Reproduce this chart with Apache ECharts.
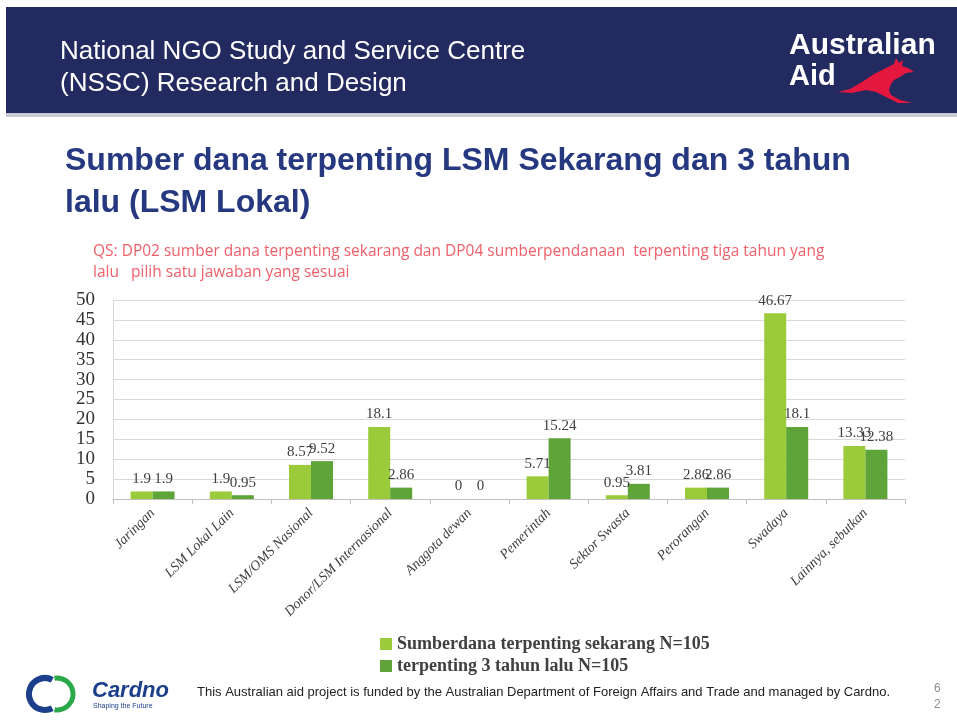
<!DOCTYPE html>
<html>
<head>
<meta charset="utf-8">
<script src="https://cdn.jsdelivr.net/npm/echarts@6/dist/echarts.min.js"></script>
<style>
html, body { margin: 0; padding: 0; background: #fff; }
#chart { width: 957px; height: 722px; }
</style>
</head>
<body>
<div id="chart"></div>
<script>
// categories
var categories = ['Jaringan', 'LSM Lokal Lain', 'LSM/OMS Nasional', 'Donor/LSM Internasional', 'Anggota dewan',
    'Pemerintah', 'Sektor Swasta', 'Perorangan', 'Swadaya', 'Lainnya, sebutkan']
// Sumberdana terpenting sekarang
var nowValues = [1.9, 1.9, 8.57, 18.1, 0, 5.71, 0.95, 2.86, 46.67, 13.33]
// terpenting 3 tahun lalu
var pastValues = [1.9, 0.95, 9.52, 2.86, 0, 15.24, 3.81, 2.86, 18.1, 12.38]
var seriesNames = ['Sumberdana terpenting sekarang N=105', 'terpenting 3 tahun lalu N=105']

var serif = '"Liberation Serif", "DejaVu Serif", serif'
var sans = '"Liberation Sans", Arial, sans-serif'

var dom = document.getElementById('chart')
var chart = echarts.init(dom)

function barLabel() {
    return {
        show: true,
        position: 'top',
        distance: 5,
        fontFamily: serif,
        fontSize: 15,
        color: '#404040'
    }
}

// rough kangaroo outline for the logo
var kangaroo = [[838, 92], [850, 89], [862, 82], [874, 74], [886, 68], [894, 64], [896, 58], [899, 63], [903, 60],
    [902, 66], [908, 68], [914, 72], [906, 73], [900, 77], [894, 80], [891, 84], [889, 90], [891, 95],
    [900, 100], [912, 103], [898, 103], [884, 96], [876, 92], [866, 90], [852, 93]]

var option = {
    animation: false,
    color: ['#9bcb3b', '#5fa438'],
    grid: {
        left: 113,
        right: 52,
        top: 300,
        bottom: 223
    },
    legend: {
        orient: 'vertical',
        left: 375,
        top: 630,
        itemWidth: 12,
        itemHeight: 12,
        itemGap: 4,
        icon: 'rect',
        textStyle: {
            fontFamily: serif,
            fontSize: 18,
            fontWeight: 'bold',
            color: '#404040'
        },
        data: seriesNames
    },
    xAxis: {
        type: 'category',
        data: categories,
        axisLine: { lineStyle: { color: '#bfbfbf' } },
        axisTick: { show: true, length: 5, lineStyle: { color: '#bfbfbf' } },
        axisLabel: {
            interval: 0,
            rotate: 45,
            margin: 12,
            fontFamily: serif,
            fontStyle: 'italic',
            fontSize: 14,
            color: '#404040'
        }
    },
    yAxis: {
        type: 'value',
        min: 0,
        max: 50,
        interval: 5,
        axisLine: { show: true, lineStyle: { color: '#d9d9d9' } },
        axisTick: { show: false },
        splitLine: { lineStyle: { color: '#d9d9d9' } },
        axisLabel: {
            margin: 18,
            fontFamily: serif,
            fontSize: 19,
            color: '#333333'
        }
    },
    series: [
        {
            name: seriesNames[0],
            type: 'bar',
            data: nowValues,
            barWidth: 22,
            barGap: '0%',
            label: barLabel()
        },
        {
            name: seriesNames[1],
            type: 'bar',
            data: pastValues,
            barWidth: 22,
            barGap: '0%',
            label: barLabel()
        }
    ],
    graphic: [
        // header banner
        { type: 'rect', shape: { x: 6, y: 7, width: 951, height: 106 }, style: { fill: '#222a60' } },
        { type: 'rect', shape: { x: 6, y: 113, width: 951, height: 4 }, style: { fill: '#c9cbd6' } },
        {
            type: 'text', x: 60, y: 39,
            style: { text: 'National NGO Study and Service Centre', fill: '#ffffff', font: '26px ' + sans }
        },
        {
            type: 'text', x: 60, y: 71,
            style: { text: '(NSSC) Research and Design', fill: '#ffffff', font: '26px ' + sans }
        },
        {
            type: 'text', x: 789, y: 31,
            style: { text: 'Australian', fill: '#ffffff', font: 'bold 30px ' + sans }
        },
        {
            type: 'text', x: 789, y: 62,
            style: { text: 'Aid', fill: '#ffffff', font: 'bold 29px ' + sans }
        },
        {
            type: 'polygon',
            shape: { points: kangaroo },
            style: { fill: '#e4173e' }
        },
        // title
        {
            type: 'text', x: 65, y: 145,
            style: { text: 'Sumber dana terpenting LSM Sekarang dan 3 tahun', fill: '#263880', font: 'bold 32px ' + sans }
        },
        {
            type: 'text', x: 65, y: 187,
            style: { text: 'lalu (LSM Lokal)', fill: '#263880', font: 'bold 32px ' + sans }
        },
        {
            type: 'text', x: 93, y: 241,
            style: {
                text: 'QS: DP02 sumber dana terpenting sekarang dan DP04 sumberpendanaan  terpenting tiga tahun yang\nlalu   pilih satu jawaban yang sesuai',
                fill: '#f0606a', font: '15.5px "Open Sans", sans-serif', lineHeight: 21
            }
        },
        // footer: Cardno logo
        {
            type: 'arc',
            shape: { cx: 45, cy: 694, r: 16, startAngle: Math.PI * 0.35, endAngle: Math.PI * 1.65 },
            style: { stroke: '#1b3f8b', lineWidth: 6, fill: null }
        },
        {
            type: 'arc',
            shape: { cx: 57, cy: 694, r: 16, startAngle: -Math.PI * 0.55, endAngle: Math.PI * 0.55 },
            style: { stroke: '#2aa84a', lineWidth: 5, fill: null }
        },
        {
            type: 'text', x: 92, y: 680,
            style: { text: 'Cardno', fill: '#1b3f8b', font: 'italic bold 22px ' + sans }
        },
        {
            type: 'text', x: 93, y: 703,
            style: { text: 'Shaping the Future', fill: '#1b3f8b', font: '7px ' + sans }
        },
        {
            type: 'text', x: 197, y: 686,
            style: {
                text: 'This Australian aid project is funded by the Australian Department of Foreign Affairs and Trade and managed by Cardno.',
                fill: '#222222', font: '13px ' + sans
            }
        },
        {
            type: 'text', x: 934, y: 681,
            style: { text: '6\n2', fill: '#8c8c8c', font: '12px ' + sans, lineHeight: 16 }
        }
    ]
}

chart.setOption(option, true)
</script>
</body>
</html>
